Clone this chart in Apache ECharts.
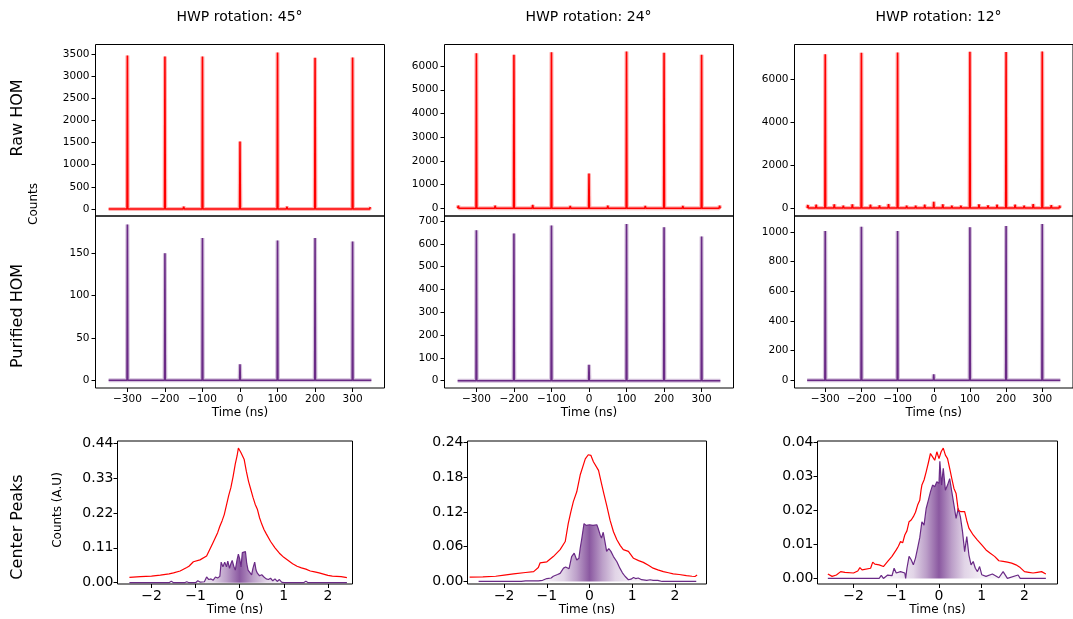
<!DOCTYPE html>
<html><head><meta charset="utf-8">
<script src="https://cdn.jsdelivr.net/npm/echarts@6/dist/echarts.min.js"></script>
<style>html,body{margin:0;padding:0;background:#fff}#c{width:1073px;height:619px}</style>
</head><body><div id="c"></div>
<script>
// ---------------- DATA ----------------
const colTitles = ['HWP rotation: 45°', 'HWP rotation: 24°', 'HWP rotation: 12°'];
const rowLabels = ['Raw HOM', 'Purified HOM', 'Center Peaks'];

const peakTimes = [-300, -200, -100, 0, 100, 200, 300];
const rawPeaks45 = [3460, 3440, 3440, 1520, 3530, 3410, 3415];
const rawPeaks24 = [6540, 6475, 6585, 1470, 6615, 6560, 6475];
const rawPeaks12 = [7185, 7260, 7275, 295, 7310, 7290, 7320];
const purPeaks45 = [184, 150, 168, 19, 165, 168, 164];
const purPeaks24 = [660, 645, 680, 70, 687, 673, 632];
const purPeaks12 = [1007, 1036, 1007, 40, 1032, 1040, 1054];

const rawBumpT45 = [-347,-325,-275,-250,-225,-175,-150,-125,-75,-50,-25,25,50,75,125,150,175,225,250,275,325,347];
const rawBumpH45 = [45,35,40,30,45,35,50,30,45,35,30,40,45,35,50,40,30,45,35,30,40,45];
const rawBumpT24 = [-348,-250,-150,-50,50,150,250,348];
const rawBumpH24 = [110,110,140,100,110,100,100,110];
const rawBumpT12 = [-348,-325,-275,-250,-225,-175,-150,-125,-75,-50,-25,25,50,75,125,150,175,225,250,275,325,348];
const rawBumpH12 = [140,155,170,110,170,155,125,185,110,110,155,170,110,110,170,125,155,155,110,185,140,110];
const purBumpT45 = [-25, 75, 325];
const purBumpH45 = [2, 2, 2];
const purBumpT24 = [];
const purBumpH24 = [];
const purBumpT12 = [];
const purBumpH12 = [];

// centre peaks: [time (ns), counts (A.U)]
const center45Raw = [[-2.5,0.017],[-2.25,0.019],[-2.0,0.021],[-1.8,0.024],[-1.6,0.028],[-1.5,0.031],[-1.35,0.037],[-1.2,0.048],[-1.15,0.052],[-1.05,0.066],[-0.9,0.072],[-0.75,0.084],[-0.6,0.128],[-0.5,0.158],[-0.45,0.178],[-0.4,0.195],[-0.35,0.215],[-0.3,0.245],[-0.25,0.275],[-0.2,0.30],[-0.15,0.335],[-0.1,0.375],[-0.06,0.40],[-0.03,0.425],[0.0,0.42],[0.03,0.41],[0.06,0.412],[0.1,0.39],[0.15,0.352],[0.2,0.32],[0.25,0.295],[0.3,0.27],[0.35,0.248],[0.4,0.232],[0.45,0.205],[0.5,0.185],[0.55,0.168],[0.6,0.155],[0.7,0.13],[0.8,0.11],[0.9,0.093],[1.0,0.08],[1.1,0.07],[1.2,0.06],[1.3,0.052],[1.4,0.047],[1.5,0.043],[1.6,0.037],[1.7,0.034],[1.8,0.031],[1.9,0.027],[2.0,0.023],[2.1,0.021],[2.2,0.020],[2.3,0.019],[2.43,0.016]];
const center45Pur = [[-2.5,0],[-1.6,0],[-1.55,0.005],[-1.5,0],[-1.25,0],[-1.2,0.003],[-1.15,0],[-1.0,0],[-0.95,0.006],[-0.9,0.002],[-0.8,0.003],[-0.75,0.018],[-0.7,0.01],[-0.65,0.012],[-0.6,0.008],[-0.55,0.018],[-0.5,0.015],[-0.45,0.02],[-0.42,0.065],[-0.38,0.05],[-0.34,0.065],[-0.3,0.05],[-0.27,0.068],[-0.23,0.045],[-0.2,0.06],[-0.17,0.07],[-0.13,0.05],[-0.1,0.04],[-0.06,0.072],[-0.03,0.09],[0.0,0.075],[0.03,0.05],[0.06,0.095],[0.1,0.1],[0.13,0.098],[0.16,0.06],[0.19,0.04],[0.23,0.035],[0.27,0.025],[0.3,0.045],[0.34,0.065],[0.37,0.04],[0.4,0.03],[0.45,0.022],[0.5,0.025],[0.55,0.018],[0.6,0.012],[0.65,0.01],[0.7,0.014],[0.75,0.006],[0.8,0.012],[0.85,0.004],[0.9,0.01],[0.95,0.002],[1.0,0],[1.45,0],[1.5,0.005],[1.55,0],[2.43,0]];

const center24Raw = [[-2.81,0.0075],[-2.5,0.008],[-2.2,0.009],[-2.0,0.011],[-1.78,0.013],[-1.5,0.0155],[-1.31,0.017],[-1.2,0.024],[-1.16,0.032],[-1.0,0.034],[-0.85,0.043],[-0.69,0.055],[-0.57,0.069],[-0.5,0.10],[-0.44,0.12],[-0.38,0.138],[-0.3,0.155],[-0.22,0.184],[-0.1,0.212],[-0.03,0.219],[0.03,0.218],[0.09,0.207],[0.21,0.192],[0.28,0.169],[0.34,0.15],[0.4,0.132],[0.48,0.106],[0.56,0.086],[0.64,0.072],[0.72,0.062],[0.79,0.055],[0.91,0.052],[1.03,0.04],[1.15,0.036],[1.26,0.033],[1.38,0.028],[1.49,0.023],[1.6,0.02],[1.73,0.017],[1.85,0.015],[1.96,0.013],[2.1,0.012],[2.27,0.010],[2.4,0.009],[2.47,0.0086],[2.52,0.011]];
const center24Pur = [[-2.6,0],[-1.6,0],[-1.5,0.001],[-1.2,0.001],[-1.1,0.002],[-1.0,0.005],[-0.9,0.006],[-0.85,0.009],[-0.75,0.012],[-0.69,0.014],[-0.61,0.023],[-0.56,0.025],[-0.53,0.026],[-0.48,0.022],[-0.42,0.043],[-0.36,0.049],[-0.3,0.037],[-0.25,0.04],[-0.22,0.057],[-0.18,0.075],[-0.13,0.1],[-0.08,0.097],[-0.04,0.1],[0.0,0.098],[0.04,0.099],[0.08,0.097],[0.12,0.098],[0.17,0.098],[0.2,0.092],[0.25,0.08],[0.28,0.075],[0.32,0.085],[0.36,0.069],[0.4,0.052],[0.45,0.057],[0.5,0.052],[0.56,0.043],[0.64,0.034],[0.71,0.023],[0.77,0.015],[0.83,0.009],[0.91,0.003],[0.97,0.004],[1.03,0.007],[1.08,0.005],[1.14,0.006],[1.22,0.003],[1.34,0.002],[1.42,0.003],[1.49,0.002],[1.6,0.002],[1.7,0],[2.5,0]];

const center12Raw = [[-2.6,0.0013],[-2.5,0.0006],[-2.4,0.001],[-2.3,0.002],[-2.2,0.0018],[-2.0,0.0016],[-1.9,0.0022],[-1.85,0.0032],[-1.8,0.0025],[-1.6,0.003],[-1.55,0.0048],[-1.5,0.0042],[-1.4,0.004],[-1.3,0.0035],[-1.2,0.005],[-1.1,0.0065],[-1.0,0.0084],[-0.95,0.0095],[-0.9,0.0109],[-0.85,0.0105],[-0.8,0.0128],[-0.75,0.014],[-0.7,0.0167],[-0.65,0.0172],[-0.6,0.0182],[-0.55,0.0195],[-0.5,0.0216],[-0.45,0.023],[-0.42,0.026],[-0.4,0.0275],[-0.35,0.029],[-0.3,0.0314],[-0.25,0.034],[-0.2,0.0368],[-0.15,0.0358],[-0.1,0.0348],[-0.05,0.0373],[0.0,0.0353],[0.05,0.0373],[0.1,0.0384],[0.15,0.0363],[0.2,0.0353],[0.25,0.0324],[0.3,0.0294],[0.35,0.0265],[0.4,0.025],[0.45,0.0201],[0.5,0.0197],[0.6,0.0197],[0.65,0.017],[0.7,0.0148],[0.8,0.0128],[0.9,0.0113],[1.0,0.0099],[1.1,0.0084],[1.2,0.0074],[1.3,0.0065],[1.4,0.0052],[1.5,0.005],[1.6,0.0048],[1.7,0.0045],[1.8,0.004],[1.9,0.0032],[2.0,0.002],[2.1,0.0018],[2.2,0.0016],[2.3,0.0018],[2.4,0.002],[2.5,0.0013]];
const center12Pur = [[-2.6,0],[-1.4,0],[-1.35,0.0009],[-1.3,0],[-1.2,0.001],[-1.1,0.0008],[-1.05,0.003],[-1.0,0.0016],[-0.9,0.002],[-0.8,0.0016],[-0.78,0],[-0.75,0.003],[-0.7,0.0065],[-0.65,0.0055],[-0.6,0.004],[-0.55,0.006],[-0.5,0.0089],[-0.45,0.012],[-0.4,0.0167],[-0.35,0.0157],[-0.3,0.0206],[-0.25,0.023],[-0.2,0.0255],[-0.15,0.0275],[-0.1,0.027],[-0.05,0.0285],[0.0,0.028],[0.02,0.0345],[0.06,0.0275],[0.1,0.0324],[0.15,0.026],[0.2,0.0275],[0.25,0.0294],[0.3,0.0255],[0.35,0.0216],[0.4,0.0177],[0.45,0.0206],[0.5,0.0182],[0.55,0.0138],[0.6,0.0079],[0.65,0.0123],[0.7,0.0069],[0.75,0.004],[0.8,0.005],[0.85,0.003],[0.9,0.002],[0.95,0.0035],[1.0,0.0011],[1.1,0.0006],[1.25,0.0013],[1.4,0.0002],[1.5,0.002],[1.6,0],[1.85,0.001],[1.9,0],[2.5,0]];

const timeTicks = [-300, -200, -100, 0, 100, 200, 300];
const rawTicks45 = [0, 500, 1000, 1500, 2000, 2500, 3000, 3500];
const rawTicks24 = [0, 1000, 2000, 3000, 4000, 5000, 6000];
const rawTicks12 = [0, 2000, 4000, 6000];
const purTicks45 = [0, 50, 100, 150];
const purTicks24 = [0, 100, 200, 300, 400, 500, 600, 700];
const purTicks12 = [0, 200, 400, 600, 800, 1000];
const cpTimeTicks = [-2, -1, 0, 1, 2];
const cpTicks45 = [0, 0.11, 0.22, 0.33, 0.44];
const cpTicks24 = [0, 0.06, 0.12, 0.18, 0.24];
const cpTicks12 = [0, 0.01, 0.02, 0.03, 0.04];

// ---------------- BUILD ----------------
const FONT = 'DejaVu Sans';
const RED = '#ff0000';
const PURPLE = '#6a2a86';

function spikeLine(times, heights, bumpT, bumpH) {
  const marks = times.map((t, i) => [t, heights[i], 1.0])
    .concat(bumpT.map((t, i) => [t, bumpH[i], 1.5]));
  marks.sort((a, b) => a[0] - b[0]);
  const pts = [[-350, 0]];
  for (const m of marks) { pts.push([m[0] - m[2], 0], [m[0], m[1]], [m[0] + m[2], 0]); }
  pts.push([350, 0]);
  return pts;
}
const minusFmt = v => (v < 0 ? '\u2212' : '') + Math.abs(v);

const panels = [
  {grid:[95.5,44.5,289,171.5], x:[-385,385], y:[-158,3709], yt:rawTicks45, data:spikeLine(peakTimes,rawPeaks45,rawBumpT45,rawBumpH45), c:RED, kind:'top'},
  {grid:[444.5,44.5,289,171.5], x:[-385,385], y:[-324,6909], yt:rawTicks24, data:spikeLine(peakTimes,rawPeaks24,rawBumpT24,rawBumpH24), c:RED, kind:'top'},
  {grid:[794.5,44.5,289,171.5], x:[-385,385], y:[-373,7646], yt:rawTicks12, data:spikeLine(peakTimes,rawPeaks12,rawBumpT12,rawBumpH12), c:RED, kind:'top'},
  {grid:[95.5,216,289,172], x:[-385,385], y:[-9.1,194], yt:purTicks45, data:spikeLine(peakTimes,purPeaks45,purBumpT45,purBumpH45), c:PURPLE, kind:'mid'},
  {grid:[444.5,216,289,172], x:[-385,385], y:[-32,722], yt:purTicks24, data:spikeLine(peakTimes,purPeaks24,purBumpT24,purBumpH24), c:PURPLE, kind:'mid'},
  {grid:[794.5,216,289,172], x:[-385,385], y:[-52,1108], yt:purTicks12, data:spikeLine(peakTimes,purPeaks12,purBumpT12,purBumpH12), c:PURPLE, kind:'mid'},
  {grid:[117.5,441,235,143], x:[-2.77,2.557], y:[-0.0041,0.4473], yt:cpTicks45, raw:center45Raw, pur:center45Pur, kind:'bot'},
  {grid:[467.5,441,239,143], x:[-2.86,2.74], y:[-0.0044,0.2428], yt:cpTicks24, raw:center24Raw, pur:center24Pur, kind:'bot'},
  {grid:[817.5,441,240,143], x:[-2.842,2.772], y:[-0.00164,0.04048], yt:cpTicks12, raw:center12Raw, pur:center12Pur, kind:'bot'}
];

const grid = [], xAxis = [], yAxis = [], series = [];
panels.forEach((p, i) => {
  grid.push({left:p.grid[0], top:p.grid[1], width:p.grid[2], height:p.grid[3], show:true,
    borderColor:'#000', borderWidth:1, backgroundColor:'transparent', containLabel:false});
  const bot = p.kind === 'bot';
  xAxis.push({
    type:'value', gridIndex:i, min:p.x[0], max:p.x[1], position:'bottom',
    axisLine:{show:false, onZero:false}, splitLine:{show:false},
    axisTick:{show:p.kind !== 'top', length:4, lineStyle:{color:'#000'}, customValues: bot ? cpTimeTicks : timeTicks},
    axisLabel:{show:p.kind !== 'top', customValues: bot ? cpTimeTicks : timeTicks, formatter:minusFmt,
      fontFamily:FONT, fontSize: bot ? 14 : 10.5, color:'#000', margin: bot ? 5 : 6},
    name: p.kind === 'top' ? '' : 'Time (ns)', nameLocation:'middle', nameGap: bot ? 20 : 19,
    nameTextStyle:{fontFamily:FONT, fontSize:12, color:'#000'}
  });
  yAxis.push({
    type:'value', gridIndex:i, min:p.y[0], max:p.y[1], position:'left',
    axisLine:{show:false, onZero:false}, splitLine:{show:false},
    axisTick:{show:true, length:4, lineStyle:{color:'#000'}, customValues:p.yt},
    axisLabel:{customValues:p.yt, formatter: bot ? (v => v.toFixed(2)) : minusFmt,
      fontFamily:FONT, fontSize: bot ? 14 : 10.5, color:'#000', margin: bot ? 4 : 6}
  });
  if (!bot) {
    series.push({type:'line', xAxisIndex:i, yAxisIndex:i, data:p.data, showSymbol:false, silent:true,
      lineStyle:{color:p.c, width:4, opacity:0.3}, z:2});
    series.push({type:'line', xAxisIndex:i, yAxisIndex:i, data:p.data, showSymbol:false, silent:true,
      lineStyle:{color:p.c, width:1.6}, z:3});
  } else {
    const x0 = p.pur[0][0], x1 = p.pur[p.pur.length - 1][0];
    const f = t => Math.min(1, Math.max(0, (t - x0) / (x1 - x0)));
    const col = a => 'rgba(106,42,134,' + a + ')';
    series.push({type:'line', xAxisIndex:i, yAxisIndex:i, data:p.pur, showSymbol:false, silent:true,
      lineStyle:{color:PURPLE, width:1.2}, z:3,
      areaStyle:{origin:0, opacity:1, color:new echarts.graphic.LinearGradient(0,0,1,0,[
        {offset:0, color:col(0.05)},
        {offset:f(-1.0), color:col(0.08)},
        {offset:f(-0.6), color:col(0.2)},
        {offset:f(-0.3), color:col(0.45)},
        {offset:f(0), color:col(0.78)},
        {offset:f(0.3), color:col(0.45)},
        {offset:f(0.6), color:col(0.2)},
        {offset:f(1.0), color:col(0.08)},
        {offset:1, color:col(0.05)}
      ])}});
    series.push({type:'line', xAxisIndex:i, yAxisIndex:i, data:p.raw, showSymbol:false, silent:true,
      lineStyle:{color:RED, width:1.2}, z:4});
  }
});

const txt = (text, x, y, size, rot) => ({type:'text', x:x, y:y, rotation: rot ? Math.PI/2 : 0,
  style:{text:text, fontFamily:FONT, fontSize:size, fill:'#000', textAlign:'center', textVerticalAlign:'middle'}});

const graphic = [
  txt(colTitles[0], 239.5, 17, 14), txt(colTitles[1], 588.5, 17, 14), txt(colTitles[2], 938.5, 17, 14),
  txt(rowLabels[0], 18, 118, 16, true), txt(rowLabels[1], 18, 316, 16, true), txt(rowLabels[2], 18, 527, 16, true),
  txt('Counts', 34, 204, 12, true), txt('Counts (A.U)', 58, 510, 12, true)
];

const chart = echarts.init(document.getElementById('c'), null, {renderer:'canvas'});
chart.setOption({animation:false, backgroundColor:'#fff', grid, xAxis, yAxis, series, graphic});
</script></body></html>
